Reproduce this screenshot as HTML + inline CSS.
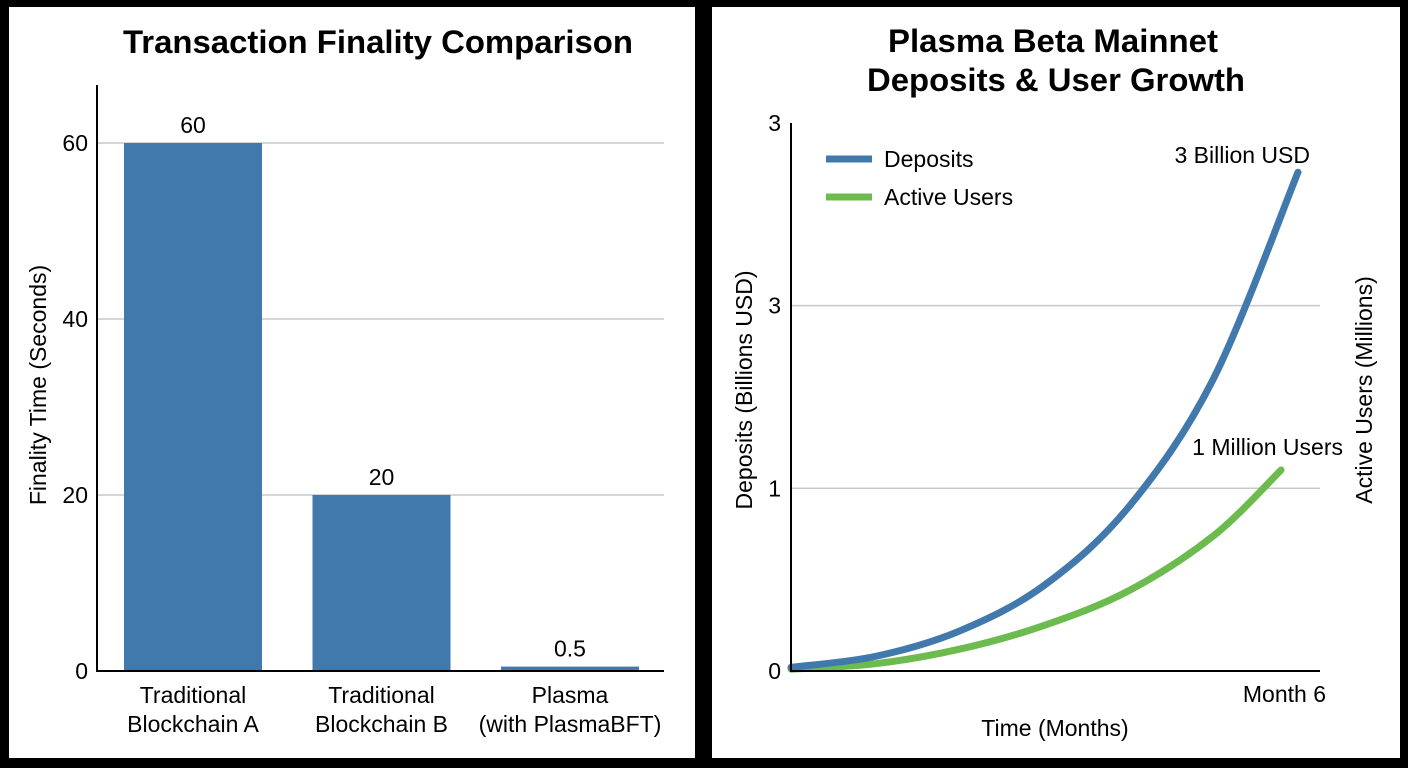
<!DOCTYPE html>
<html><head><meta charset="utf-8"><style>
body{margin:0;width:1408px;height:768px;background:#000;overflow:hidden;font-family:"Liberation Sans",Arial,sans-serif}
svg{display:block}
</style></head><body>
<svg id="s" width="1408" height="768">
<rect x="9" y="7" width="686" height="751" fill="#fff"/>
<rect x="712" y="7" width="688" height="751" fill="#fff"/>
<text x="378" y="53" font-size="32" font-weight="bold" text-anchor="middle" textLength="510" lengthAdjust="spacingAndGlyphs">Transaction Finality Comparison</text>
<text font-size="32" font-weight="bold" text-anchor="middle"><tspan x="1053" y="52" textLength="330" lengthAdjust="spacingAndGlyphs">Plasma Beta Mainnet</tspan><tspan x="1056" y="91" textLength="378" lengthAdjust="spacingAndGlyphs">Deposits &amp; User Growth</tspan></text>
<g id="L"></g><g id="R"></g>
</svg>
<script>
const ns="http://www.w3.org/2000/svg";
function mk(p,t,a,txt){const e=document.createElementNS(ns,t);for(const k in a)e.setAttribute(k,a[k]);if(txt!==undefined)e.textContent=txt;p.appendChild(e);return e;}
// Left chart data
const barCats=[["Traditional","Blockchain A"],["Traditional","Blockchain B"],["Plasma","(with PlasmaBFT)"]];
const barVals=[60,20,0.5];
const barLabels=["60","20","0.5"];
const leftTicks=[0,20,40,60];
// Right chart data
const depMonths=[0,1,2,3,4,5,6];
const depVals=[0.02,0.08,0.22,0.47,0.9,1.6,2.73];
const userMonths=[0,1,2,3,4,5,5.8];
const userVals=[0.01,0.04,0.12,0.25,0.44,0.74,1.1];
const rightTickVals=[0,1,2,3];
const rightTickLabels=["0","1","3","3"];

const L=document.getElementById('L');
const ly=v=>671-v*8.8;
const band=i=>124+i*188.5;
leftTicks.forEach(t=>{
 if(t>0){const g=mk(L,'line',{x1:97,x2:664,y1:ly(t),y2:ly(t),stroke:'#c8c8c8','stroke-width':1.5});
 
 }
 const tl=mk(L,'text',{x:88,y:ly(t)+8,'font-size':23,'text-anchor':'end'},String(t));
 
 
});
barVals.forEach((v,i)=>{
 const r=mk(L,'rect',{x:band(i),y:ly(v),width:138,height:671-ly(v),fill:'#4279ad'});
 
 
 const vl=mk(L,'text',{x:band(i)+69,y:ly(v)-10,'font-size':23,'text-anchor':'middle'},barLabels[i]);
 
 
 const cl=mk(L,'text',{x:band(i)+69,y:703,'font-size':23,'text-anchor':'middle'});
 
 
 barCats[i].forEach((s,j)=>mk(cl,'tspan',{x:band(i)+69,dy:j?29:0},s));
});
let a=mk(L,'line',{x1:97,x2:97,y1:85,y2:672,stroke:'#000','stroke-width':2});

a=mk(L,'line',{x1:96,x2:664,y1:671,y2:671,stroke:'#000','stroke-width':2});

a=mk(L,'text',{x:0,y:0,'font-size':23,'text-anchor':'middle',transform:'translate(46,385) rotate(-90)'},'Finality Time (Seconds)');


const R=document.getElementById('R');
const rx=m=>791+m*84.5;
const ry=v=>671-v*182.7;
rightTickVals.forEach((t,i)=>{
 if(t>0&&t<3){const g=mk(R,'line',{x1:791,x2:1320,y1:ry(t),y2:ry(t),stroke:'#c8c8c8','stroke-width':1.5});
 
 }
 const tl=mk(R,'text',{x:781,y:ry(t)+8,'font-size':23,'text-anchor':'end'},rightTickLabels[i]);
 
 
});
function path(xs,ys){const P=xs.map((m,i)=>[rx(m),ry(ys[i])]);let d='M'+P[0];
 for(let i=0;i<P.length-1;i++){const p0=P[i-1]||P[i],p1=P[i],p2=P[i+1],p3=P[i+2]||p2;
  d+=' C'+(p1[0]+(p2[0]-p0[0])/6)+','+(p1[1]+(p2[1]-p0[1])/6)+' '+(p2[0]-(p3[0]-p1[0])/6)+','+(p2[1]-(p3[1]-p1[1])/6)+' '+p2;}
 return d;}
a=mk(R,'path',{d:path(userMonths,userVals),fill:'none',stroke:'#6cbb4e','stroke-width':7,'stroke-linecap':'round'});

a=mk(R,'path',{d:path(depMonths,depVals),fill:'none',stroke:'#4279ad','stroke-width':7,'stroke-linecap':'round'});

a=mk(R,'line',{x1:791,x2:791,y1:123,y2:672,stroke:'#000','stroke-width':2});

a=mk(R,'line',{x1:790,x2:1320,y1:671,y2:671,stroke:'#000','stroke-width':2});

a=mk(R,'line',{x1:826,x2:872,y1:159,y2:159,stroke:'#4279ad','stroke-width':7});

a=mk(R,'text',{x:884,y:167,'font-size':23},'Deposits');

a=mk(R,'line',{x1:826,x2:872,y1:197,y2:197,stroke:'#6cbb4e','stroke-width':7});

a=mk(R,'text',{x:884,y:205,'font-size':23},'Active Users');

a=mk(R,'text',{x:1310,y:163,'font-size':23,'text-anchor':'end'},'3 Billion USD');

a=mk(R,'text',{x:1343,y:455,'font-size':23,'text-anchor':'end'},'1 Million Users');

a=mk(R,'text',{x:1326,y:702,'font-size':23,'text-anchor':'end'},'Month 6');

a=mk(R,'text',{x:1055,y:736,'font-size':23,'text-anchor':'middle'},'Time (Months)');

a=mk(R,'text',{x:0,y:0,'font-size':23,'text-anchor':'middle',transform:'translate(752,390) rotate(-90)'},'Deposits (Billions USD)');

a=mk(R,'text',{x:0,y:0,'font-size':23,'text-anchor':'middle',transform:'translate(1372,390) rotate(-90)'},'Active Users (Millions)');

</script>
</body></html>
